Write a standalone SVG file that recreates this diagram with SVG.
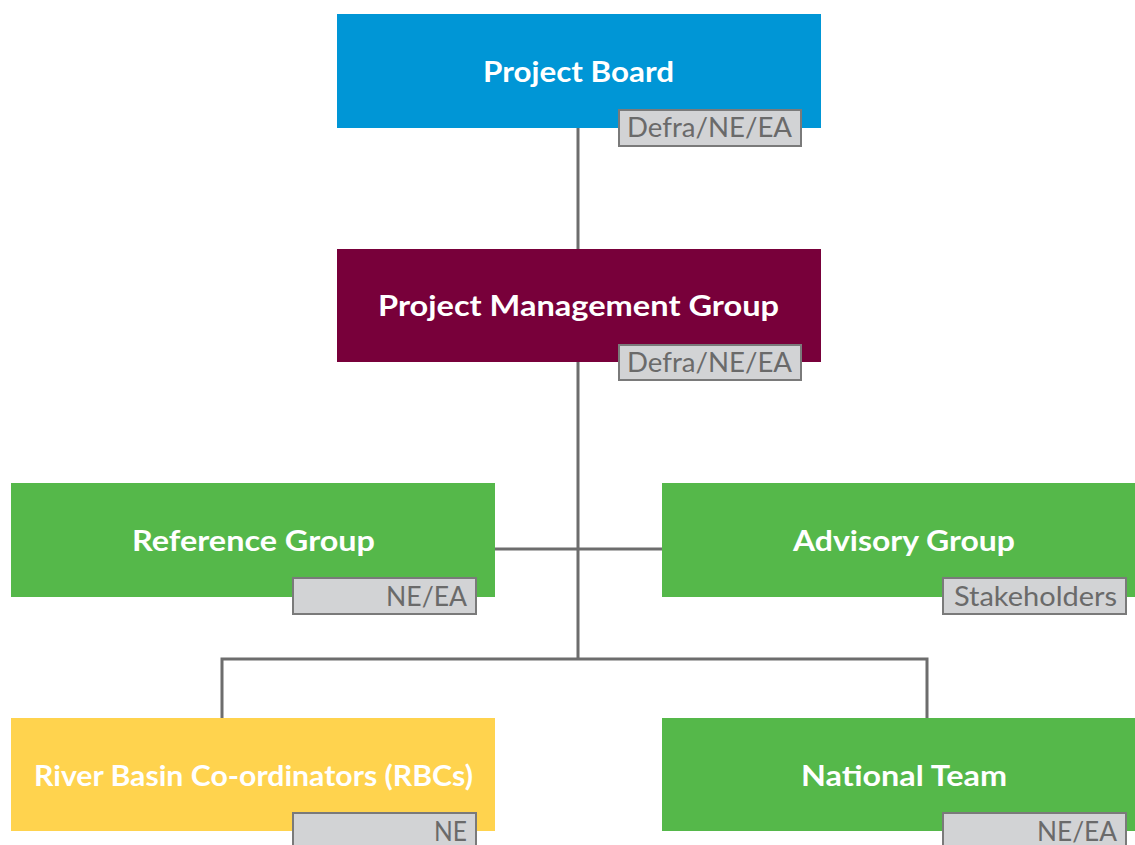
<svg xmlns="http://www.w3.org/2000/svg" width="1135" height="845" viewBox="0 0 1135 845">
  <style>
    .box-title { font-family: "Lato", "Open Sans", "Liberation Sans", sans-serif; font-weight: bold; font-size: 29px; fill: #ffffff; text-anchor: middle; }
    .tag rect { fill: #d2d3d5; stroke: #7a7a7a; stroke-width: 2; }
    .tag text { font-family: "Lato", "Open Sans", "Liberation Sans", sans-serif; font-size: 26px; fill: #6a6a6a; text-anchor: end; }
    .link { stroke: #6d6d6d; stroke-width: 3; fill: none; }
  </style>
  <rect width="1135" height="845" fill="#ffffff"/>

  <!-- connectors -->
  <g id="connectors">
    <path class="link" d="M578 128 V249"/>
    <path class="link" d="M578 362 V659"/>
    <path class="link" d="M495 549 H662"/>
    <path class="link" d="M222 718 V659 H927 V718"/>
  </g>

  <g id="project-board">
    <rect x="337" y="14" width="484" height="114" fill="#0096d6"/>
    <text class="box-title" x="578.5" y="82" textLength="191" lengthAdjust="spacingAndGlyphs">Project Board</text>
    <g class="tag">
      <rect x="619" y="110" width="182" height="36"/>
      <text x="792" y="137" textLength="165" lengthAdjust="spacingAndGlyphs">Defra/NE/EA</text>
    </g>
  </g>

  <g id="project-management-group">
    <rect x="337" y="249" width="484" height="113" fill="#78003a"/>
    <text class="box-title" x="578.5" y="316" textLength="401" lengthAdjust="spacingAndGlyphs">Project Management Group</text>
    <g class="tag">
      <rect x="619" y="345" width="182" height="35"/>
      <text x="792" y="372" textLength="165" lengthAdjust="spacingAndGlyphs">Defra/NE/EA</text>
    </g>
  </g>

  <g id="reference-group">
    <rect x="11" y="483" width="484" height="114" fill="#55b84a"/>
    <text class="box-title" x="253.5" y="551" textLength="243" lengthAdjust="spacingAndGlyphs">Reference Group</text>
    <g class="tag">
      <rect x="293" y="578" width="183" height="36"/>
      <text x="467" y="606" textLength="81" lengthAdjust="spacingAndGlyphs">NE/EA</text>
    </g>
  </g>

  <g id="advisory-group">
    <rect x="662" y="483" width="473" height="114" fill="#55b84a"/>
    <text class="box-title" x="904" y="551" textLength="222" lengthAdjust="spacingAndGlyphs">Advisory Group</text>
    <g class="tag">
      <rect x="943" y="578" width="183" height="36"/>
      <text x="1117" y="606" textLength="163" lengthAdjust="spacingAndGlyphs">Stakeholders</text>
    </g>
  </g>

  <g id="river-basin-coordinators">
    <rect x="11" y="718" width="484" height="113" fill="#ffd34e"/>
    <text class="box-title" x="253.5" y="786" textLength="439" lengthAdjust="spacingAndGlyphs">River Basin Co-ordinators (RBCs)</text>
    <g class="tag">
      <rect x="293" y="813" width="183" height="40"/>
      <text x="467" y="841" textLength="33" lengthAdjust="spacingAndGlyphs">NE</text>
    </g>
  </g>

  <g id="national-team">
    <rect x="662" y="718" width="473" height="113" fill="#55b84a"/>
    <text class="box-title" x="904" y="786" textLength="206" lengthAdjust="spacingAndGlyphs">National Team</text>
    <g class="tag">
      <rect x="943" y="813" width="183" height="40"/>
      <text x="1117" y="841" textLength="80" lengthAdjust="spacingAndGlyphs">NE/EA</text>
    </g>
  </g>
</svg>
